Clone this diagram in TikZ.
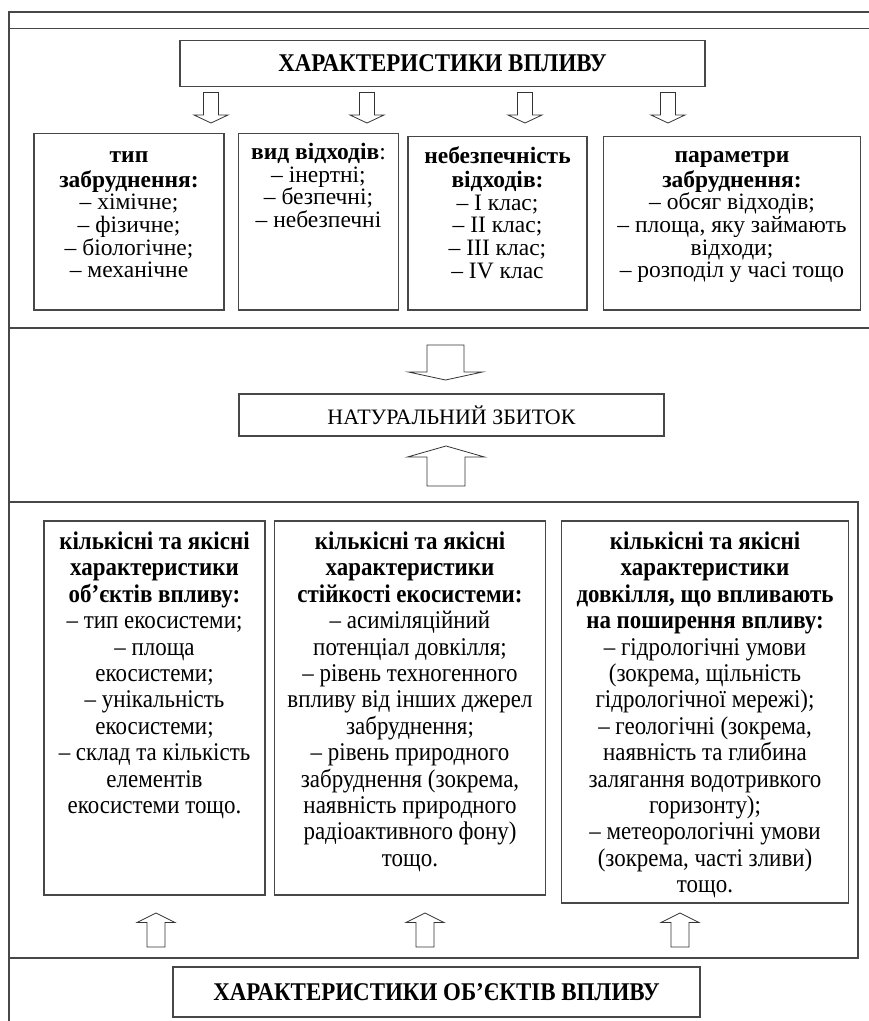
\documentclass[tikz,border=0pt]{standalone}
\usepackage{fontspec}
\setmainfont{Liberation Serif}[FakeStretch=0.9]
\newfontfamily\plainserif{Liberation Serif}
\tikzset{
  ln/.style={draw=black!72, line width=1.4pt},
  frame/.style={draw=black!72, line width=1.4pt},
  box/.style={draw=black!72, line width=1.2pt, inner sep=0pt, outer sep=0pt},
  barrow/.style={draw=black!80, line width=0.8pt, fill=white, line join=miter},
}
\newcommand{\upperfont}{\plainserif\fontsize{23.5}{22.7}\selectfont}
\newcommand{\lowerfont}{\fontsize{25.5}{26.4}\selectfont}
% block arrow: name, x, ytail, ybase, ytip, shaft half, head half
\newcommand{\dblock}[7]{%
  \draw[barrow] (#2-#6,#3) -- (#2+#6,#3) -- (#2+#6,#4) -- (#2+#7,#4) -- (#2,#5)
    -- (#2-#7,#4) -- (#2-#6,#4) -- cycle;
  \coordinate (#1) at (#2,#5);}
\begin{document}
\begin{tikzpicture}[x=1pt,y=-1pt]
\useasboundingbox (0,0) rectangle (869,1021);
% outer framing lines
\draw[ln] (9,12) -- (869,12);
\draw[ln] (9,28.5) -- (869,28.5);
\draw[ln] (9,11.3) -- (9,1021);
\draw[ln] (9,328) -- (869,328);
\draw[frame] (9,502) rectangle (858,958);

% title
\node[box, minimum width=525pt, minimum height=46pt, font=\bfseries\fontsize{25.5}{26}\selectfont] (title) at (442.5,63.5) {ХАРАКТЕРИСТИКИ ВПЛИВУ};

% upper boxes
\node[box, anchor=north west] (b1) at (34,133.5) {\parbox[c][176.5pt][t]{190pt}{\centering\upperfont\vspace*{13pt}\strut\textbf{тип}\\\textbf{забруднення:}\\– хімічне;\\– фізичне;\\– біологічне;\\– механічне}};
\node[box, anchor=north west] (b2) at (238.5,133.5) {\parbox[c][176.5pt][t]{160pt}{\centering\upperfont\vspace*{9.5pt}\strut\textbf{вид відходів}:\\– інертні;\\– безпечні;\\– небезпечні}};
\node[box, anchor=north west] (b3) at (408,136.5) {\parbox[c][173.5pt][t]{179pt}{\centering\upperfont\vspace*{10pt}\strut\textbf{небезпечність}\\\textbf{відходів:}\\– I клас;\\– II клас;\\– III клас;\\– IV клас}};
\node[box, anchor=north west] (b4) at (603.5,136.5) {\parbox[c][173.5pt][t]{257pt}{\centering\upperfont\vspace*{10pt}\strut\textbf{параметри}\\\textbf{забруднення:}\\– обсяг відходів;\\– площа, яку займають\\відходи;\\– розподіл у часі тощо}};

% small down arrows
\dblock{a1}{211}{92.5}{115}{123}{7.5}{17}
\dblock{a2}{367}{92.5}{115}{123}{7.5}{17}
\dblock{a3}{525}{92.5}{115}{123}{7.5}{17}
\dblock{a4}{668}{92.5}{115}{123}{7.5}{17}

% middle
\node[box, minimum width=425pt, minimum height=42pt, font=\plainserif\fontsize{22}{24}\selectfont] (nz) at (451.5,415) {НАТУРАЛЬНИЙ ЗБИТОК};
\dblock{bd}{445.5}{345}{372}{380}{18.5}{37}
\dblock{bu}{446}{486}{457}{446}{19}{38.5}

% lower boxes
\node[box, anchor=north west] (c1) at (44,521) {\parbox[c][374pt][t]{221pt}{\centering\lowerfont\vspace*{10pt}\strut\textbf{кількісні та якісні}\\\textbf{характеристики}\\\textbf{об'єктів впливу:}\\– тип екосистеми;\\– площа\\екосистеми;\\– унікальність\\екосистеми;\\– склад та кількість\\елементів\\екосистеми тощо.}};
\node[box, anchor=north west] (c2) at (274.5,521) {\parbox[c][374pt][t]{271pt}{\centering\lowerfont\vspace*{10pt}\strut\textbf{кількісні та якісні}\\\textbf{характеристики}\\\textbf{стійкості екосистеми:}\\– асиміляційний\\потенціал довкілля;\\– рівень техногенного\\впливу від інших джерел\\забруднення;\\– рівень природного\\забруднення (зокрема,\\наявність природного\\радіоактивного фону)\\тощо.}};
\node[box, anchor=north west] (c3) at (561.5,521) {\parbox[c][382pt][t]{287pt}{\centering\lowerfont\vspace*{10pt}\strut\textbf{кількісні та якісні}\\\textbf{характеристики}\\\textbf{довкілля, що впливають}\\\textbf{на поширення впливу:}\\– гідрологічні умови\\(зокрема, щільність\\гідрологічної мережі);\\– геологічні (зокрема,\\наявність та глибина\\залягання водотривкого\\горизонту);\\– метеорологічні умови\\(зокрема, часті зливи)\\тощо.}};

% bottom up arrows
\dblock{u1}{156}{947}{922.5}{913}{9}{19}
\dblock{u2}{425}{947}{922.5}{913}{9}{19}
\dblock{u3}{680}{947}{922.5}{913}{9}{19}

% bottom title
\node[box, minimum width=527pt, minimum height=50pt, font=\bfseries\fontsize{25.5}{26}\selectfont] (btitle) at (436.5,992) {ХАРАКТЕРИСТИКИ ОБ’ЄКТІВ ВПЛИВУ};
\end{tikzpicture}
\end{document}
